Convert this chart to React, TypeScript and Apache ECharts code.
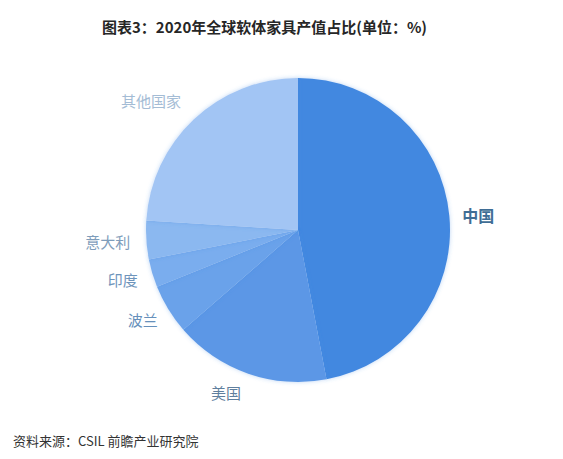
import React, { useEffect, useRef } from 'react';
import * as echarts from 'echarts';

// 2020年全球软体家具产值占比(单位：%)
const countries = ['中国', '美国', '波兰', '印度', '意大利', '其他国家'];
const shares = [47, 16.6, 5.3, 3, 4.1, 24];
const sliceColors = ['#4288e0', '#5b97e6', '#6aa2ea', '#7aadee', '#8bb8f0', '#a2c5f4'];
const labelColors = ['#3f6d95', '#5f7f9e', '#6690bb', '#6e94bb', '#7f9dbb', '#a4bcd5'];
// 标签微调（像素）
const labelDx = [-6, 5, 7, 4, 3, 3];
const labelDy = [0, 9, 5, 3, 1, -11];

const App = () => {
    const chartRef = useRef<HTMLDivElement>(null);

    useEffect(() => {
        document.body.style.margin = '0';
        let myChart: any = null;
        if (chartRef.current) {
            myChart = echarts.init(chartRef.current, null, { renderer: 'svg' });
        }

        const pieData = countries.map(function (name, i) {
            return {
                name: name,
                value: shares[i],
                itemStyle: { color: sliceColors[i] },
                label: {
                    color: labelColors[i],
                    fontWeight: i === 0 ? 'bold' : 'normal',
                    fontSize: i === 0 ? 16 : 15
                }
            };
        });

        const option = {
            animation: false,
            backgroundColor: '#ffffff',
            title: [
                {
                    text: '图表3：2020年全球软体家具产值占比(单位：%)',
                    left: 97,
                    top: 14,
                    textStyle: {
                        fontSize: 15,
                        fontWeight: 'bold',
                        color: '#262626',
                        fontFamily: 'Noto Sans CJK SC'
                    }
                },
                {
                    text: '资料来源：CSIL 前瞻产业研究院',
                    left: 8,
                    top: 429,
                    textStyle: {
                        fontSize: 13,
                        fontWeight: 'normal',
                        color: '#333333',
                        fontFamily: 'Noto Sans CJK SC'
                    }
                }
            ],
            series: [
                {
                    type: 'pie',
                    center: [298, 230],
                    radius: 152,
                    startAngle: 90,
                    clockwise: true,
                    data: pieData,
                    label: {
                        show: true,
                        position: 'outside',
                        formatter: '{b}',
                        fontSize: 15,
                        fontFamily: 'Noto Sans CJK SC'
                    },
                    labelLine: {
                        show: false,
                        length: 10,
                        length2: 4
                    },
                    labelLayout: function (params: any) {
                        return {
                            dx: labelDx[params.dataIndex],
                            dy: labelDy[params.dataIndex]
                        };
                    },
                    itemStyle: {
                        shadowBlur: 4,
                        shadowColor: 'rgba(66, 136, 224, 0.35)'
                    },
                    emphasis: { disabled: true }
                }
            ]
        };

        myChart.setOption(option);

        return () => {
            if (myChart !== null) {
                myChart.dispose();
            }
        };
    }, []);

    return <div ref={chartRef} style={{ width: 563, height: 459 }}></div>;
};

export default App;
